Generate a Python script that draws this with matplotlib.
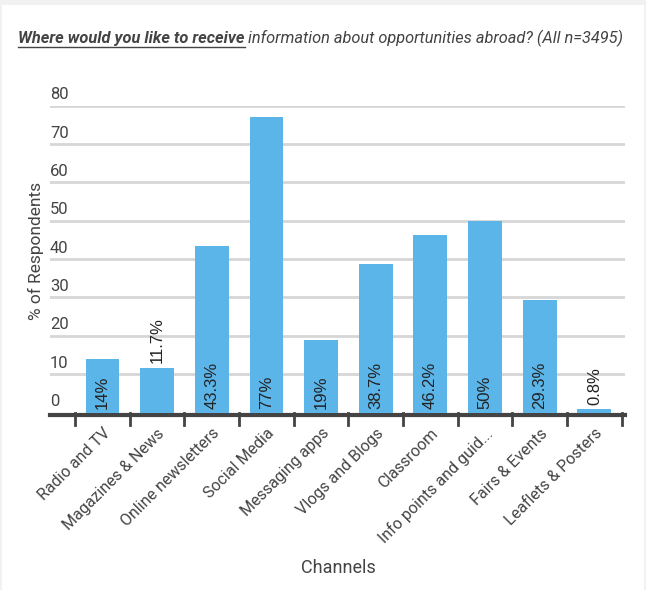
import matplotlib.pyplot as plt
from matplotlib.patches import Rectangle
import matplotlib.transforms as mtransforms

plt.rcParams['font.family'] = ['Roboto', 'DejaVu Sans']

channels = ['Radio and TV', 'Magazines & News', 'Online newsletters', 'Social Media',
            'Messaging apps', 'Vlogs and Blogs', 'Classroom', 'Info points and guid...',
            'Fairs & Events', 'Leaflets & Posters']
share = [14, 11.7, 43.3, 77, 19, 38.7, 46.2, 50, 29.3, 0.8]
value_labels = ['14%', '11.7%', '43.3%', '77%', '19%', '38.7%', '46.2%', '50%', '29.3%', '0.8%']
y_ticks = [0, 10, 20, 30, 40, 50, 60, 70, 80]

W, H = 646, 590
fig = plt.figure(figsize=(W / 100, H / 100), dpi=100)
fig.patch.set_facecolor('#f1f1f1')
fig.patches.append(Rectangle((2 / W, 0), (W - 4) / W, (H - 5) / H, transform=fig.transFigure,
                             facecolor='white', edgecolor='none', zorder=-5))

ax = fig.add_axes([50 / W, 1 - 412.5 / H, 575 / W, (412.5 - 105.7) / H])
ax.set_facecolor('none')
ax.set_zorder(2)

for s in ['top', 'right', 'left']:
    ax.spines[s].set_visible(False)
ax.spines['bottom'].set_position(('outward', 1.5))
ax.spines['bottom'].set_color('#444444')
ax.spines['bottom'].set_linewidth(3)
ax.spines['bottom'].set_zorder(4)

x = list(range(len(channels)))
ax.bar(x, share, width=0.62, color='#5bb5e8', zorder=5)

ax.set_xlim(-0.96, 9.56)
ax.set_ylim(0, 80)

# grid lines and y labels sitting above them
for t in y_ticks:
    if t > 0:
        ax.axhline(t, color='#d6d6d6', lw=2, zorder=1)
trans = mtransforms.blended_transform_factory(ax.transAxes, ax.transData)
for t in y_ticks:
    ax.text(0.0, t + 0.9, str(t), transform=trans, ha='left', va='bottom',
            fontsize=12, color='#444444')
ax.set_yticks([])

# category labels and boundary ticks
ax.set_xticks(x)
ax.set_xticklabels(channels, rotation=45, ha='right', rotation_mode='anchor',
                   fontsize=11.5, color='#444444')
ax.tick_params(axis='x', length=0, pad=8)
for b in [i - 0.5 for i in range(len(channels) + 1)]:
    ax.plot([b, b], [0, -3.2], color='#444444', lw=2, clip_on=False, zorder=3)

# value labels
for xi, v, lab in zip(x, share, value_labels):
    y0 = v + 1.2 if v < 13 else 1.0
    ax.text(xi, y0, lab, rotation=90, ha='center', va='bottom',
            fontsize=12, color='#222222', zorder=6, family='Liberation Sans')

ax.set_ylabel('% of Respondents', fontsize=12.5, color='#444444')
ax.yaxis.set_label_coords(-0.01, 0.526)
fig.text(338 / W, 1 - 568 / H, 'Channels', ha='center', va='center',
         fontsize=13, color='#444444')

# title: underlined bold part, then the rest
t1 = fig.text(18 / W, 1 - 38 / H, 'Where would you like to receive', ha='left', va='center',
              fontsize=11.8, style='italic', weight='bold', color='#444444')
fig.canvas.draw()
bb = t1.get_window_extent()
fig.add_artist(plt.Line2D([bb.x0 / W, bb.x1 / W], [(bb.y0 - 1) / H, (bb.y0 - 1) / H],
                          transform=fig.transFigure, color='#444444', lw=1))
fig.text(bb.x1 / W + 4 / W, 1 - 38 / H, 'information about opportunities abroad? (All n=3495)',
         ha='left', va='center', fontsize=11.8, style='italic', color='#444444')

fig.savefig('out.png', dpi=100, facecolor=fig.get_facecolor())
